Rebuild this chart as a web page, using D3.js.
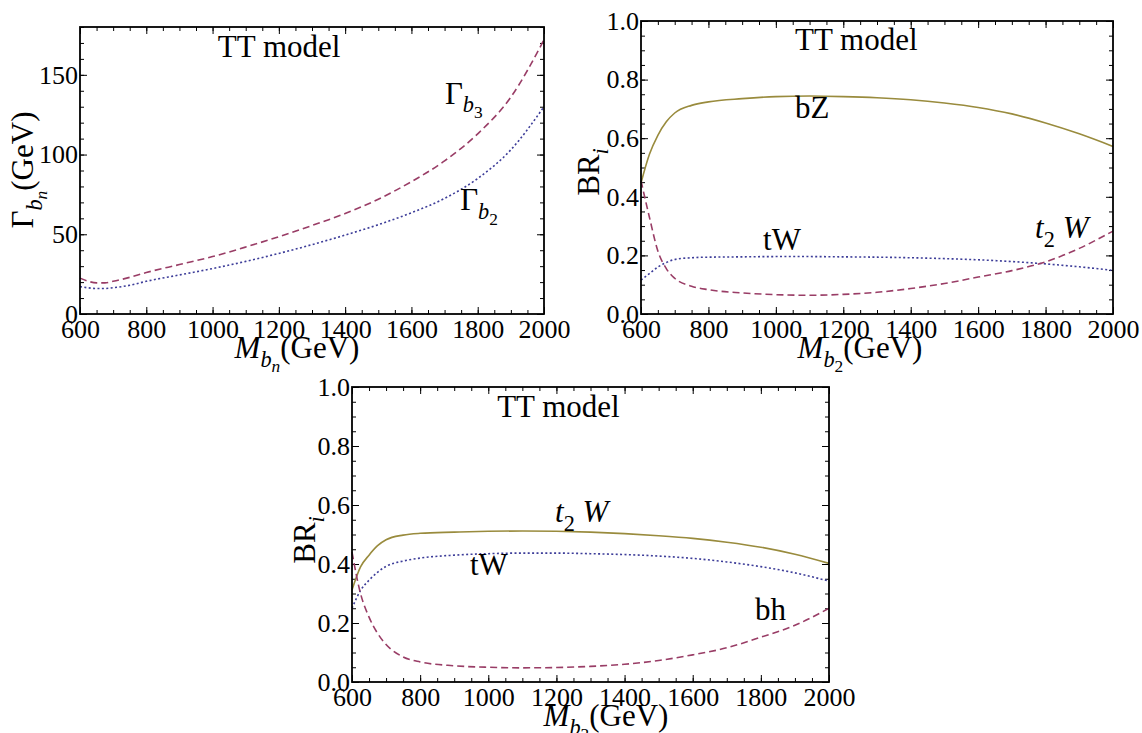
<!DOCTYPE html>
<html>
<head>
<meta charset="utf-8">
<script src="https://cdn.jsdelivr.net/npm/d3@7"></script>
<style>
  body { margin: 0; background: #fff; }
  text { font-family: "Liberation Serif", "Times New Roman", serif; fill: #000; }
</style>
</head>
<body>
<svg id="chart" width="1142" height="733"></svg>
<script>
var mass = [600, 625, 650, 675, 700, 750, 800, 900, 1000, 1100, 1200, 1300, 1400, 1500, 1600, 1700, 1800, 1900, 2000]

// panel 1 : total widths (GeV)
var gammaB3 = [22.5, 20.5, 19.5, 19.5, 20.5, 23, 26, 31, 36, 42, 48.5, 55.5, 63, 72, 83, 96, 113, 136, 172]
var gammaB2 = [17.2, 16.4, 16, 16, 16.5, 18, 20.5, 24.5, 28.5, 33, 38, 43.5, 49.5, 56, 63.5, 72.5, 85, 103, 130]

// panel 2 : b2 branching ratios
var b2_bZ  = [0.447, 0.545, 0.61, 0.656, 0.686, 0.712, 0.724, 0.735, 0.742, 0.744, 0.742, 0.738, 0.731, 0.72, 0.705, 0.683, 0.652, 0.615, 0.572]
var b2_tW  = [0.116, 0.138, 0.16, 0.176, 0.186, 0.192, 0.194, 0.195, 0.196, 0.196, 0.195, 0.194, 0.192, 0.189, 0.185, 0.179, 0.171, 0.161, 0.149]
var b2_t2W = [0.455, 0.33, 0.215, 0.155, 0.122, 0.095, 0.083, 0.072, 0.066, 0.064, 0.067, 0.074, 0.087, 0.104, 0.126, 0.148, 0.178, 0.224, 0.283]

// panel 3 : b3 branching ratios
var b3_t2W = [0.312, 0.39, 0.43, 0.462, 0.482, 0.498, 0.504, 0.508, 0.511, 0.512, 0.511, 0.508, 0.503, 0.496, 0.487, 0.474, 0.457, 0.433, 0.402]
var b3_tW  = [0.25, 0.31, 0.345, 0.372, 0.392, 0.41, 0.42, 0.43, 0.435, 0.437, 0.437, 0.435, 0.432, 0.427, 0.419, 0.407, 0.391, 0.37, 0.342]
var b3_bh  = [0.44, 0.30, 0.22, 0.165, 0.127, 0.085, 0.068, 0.055, 0.05, 0.048, 0.049, 0.053, 0.06, 0.073, 0.092, 0.116, 0.152, 0.192, 0.25]

// tick labels
var massTicks  = [600, 800, 1000, 1200, 1400, 1600, 1800, 2000]
var gammaTicks = [0, 50, 100, 150]
var brTicks    = [0, 0.2, 0.4, 0.6, 0.8, 1.0]

var blue = "#3d3d99", magenta = "#993d66", olive = "#998b3d"
var styles = {
  dotted: { color: blue, dash: "2,2.4" },
  dashed: { color: magenta, dash: "7,4" },
  solid:  { color: olive, dash: null }
}

const svg = d3.select("#chart")

// write text with nested subscripts: parts = [text, italic, level]
function rich(sel, parts, size) {
  var shifts = [0, 0.28, 0.46], scale = [1, 0.72, 0.56]
  var prev = 0
  parts.forEach(function(p) {
    sel.append("tspan")
      .text(p[0])
      .attr("font-size", size * scale[p[2]])
      .attr("font-style", p[1] ? "italic" : "normal")
      .attr("dy", (shifts[p[2]] - shifts[prev]) * size)
    prev = p[2]
  })
  return sel
}

function drawPanel(cfg) {
  var x = d3.scaleLinear().domain([600, 2000]).range([cfg.left, cfg.right])
  var y = d3.scaleLinear().domain(cfg.yDomain).range([cfg.bottom, cfg.top])
  var g = svg.append("g")
  var xMinor = d3.range(600, 2001, 50)
  var yMinor = d3.range(cfg.yDomain[0], cfg.yDomain[1] + 1e-9, cfg.yMinorStep)

  // major ticks + labels
  g.append("g").attr("transform", "translate(0," + cfg.bottom + ")")
    .call(d3.axisBottom(x).tickValues(massTicks).tickSize(-7).tickPadding(6).tickFormat(d3.format("d")))
  g.append("g").attr("transform", "translate(" + cfg.left + ",0)")
    .call(d3.axisLeft(y).tickValues(cfg.yTicks).tickSize(-7).tickPadding(2).tickFormat(cfg.yFormat))
  g.append("g").attr("transform", "translate(0," + cfg.top + ")")
    .call(d3.axisTop(x).tickValues(massTicks).tickSize(-7).tickFormat(""))
  g.append("g").attr("transform", "translate(" + cfg.right + ",0)")
    .call(d3.axisRight(y).tickValues(cfg.yTicks).tickSize(-7).tickFormat(""))
  // minor ticks
  g.append("g").attr("transform", "translate(0," + cfg.bottom + ")")
    .call(d3.axisBottom(x).tickValues(xMinor).tickSize(-4).tickFormat(""))
  g.append("g").attr("transform", "translate(0," + cfg.top + ")")
    .call(d3.axisTop(x).tickValues(xMinor).tickSize(-4).tickFormat(""))
  g.append("g").attr("transform", "translate(" + cfg.left + ",0)")
    .call(d3.axisLeft(y).tickValues(yMinor).tickSize(-4).tickFormat(""))
  g.append("g").attr("transform", "translate(" + cfg.right + ",0)")
    .call(d3.axisRight(y).tickValues(yMinor).tickSize(-4).tickFormat(""))

  g.selectAll(".domain").remove()
  g.selectAll(".tick line").attr("stroke", "#000").attr("stroke-width", 1)
  g.selectAll(".tick text")
    .attr("font-size", 26)
    .style("font-family", "'Liberation Serif', serif")
    .attr("fill", "#000")

  // curves
  var line = d3.line()
    .x(function(d) { return x(d[0]) })
    .y(function(d) { return y(d[1]) })
    .curve(d3.curveMonotoneX)
  cfg.series.forEach(function(s) {
    var st = styles[s.style]
    g.append("path")
      .datum(mass.map(function(m, i) { return [m, s.values[i]] }))
      .attr("d", line)
      .attr("fill", "none")
      .attr("stroke", st.color)
      .attr("stroke-width", 1.6)
      .attr("stroke-dasharray", st.dash)
  })

  // frame
  g.append("rect")
    .attr("x", cfg.left).attr("y", cfg.top)
    .attr("width", cfg.right - cfg.left).attr("height", cfg.bottom - cfg.top)
    .attr("fill", "none").attr("stroke", "#000").attr("stroke-width", 1.8)

  // title + curve labels
  g.append("text").attr("x", x(cfg.title[0])).attr("y", y(cfg.title[1]))
    .attr("font-size", 31).text("TT model")
  cfg.labels.forEach(function(l) {
    rich(g.append("text").attr("x", x(l.at[0])).attr("y", y(l.at[1])), l.parts, 31)
  })

  // axis titles
  rich(g.append("text").attr("x", cfg.xTitle[0]).attr("y", cfg.xTitle[1]).attr("text-anchor", "middle"), cfg.xParts, 31)
  rich(g.append("text").attr("text-anchor", "middle")
    .attr("transform", "translate(" + cfg.yTitle[0] + "," + cfg.yTitle[1] + ") rotate(-90)"), cfg.yParts, 31)
}

drawPanel({
  left: 80, right: 544, top: 27, bottom: 314,
  yDomain: [0, 180], yTicks: gammaTicks, yMinorStep: 10, yFormat: d3.format("d"),
  series: [{ values: gammaB3, style: "dashed" }, { values: gammaB2, style: "dotted" }],
  title: [1016, 161],
  labels: [
    { at: [1701, 132], parts: [["Γ", false, 0], ["b", true, 1], ["3", false, 2]] },
    { at: [1747, 65], parts: [["Γ", false, 0], ["b", true, 1], ["2", false, 2]] }
  ],
  xTitle: [297, 358], xParts: [["M", true, 0], ["b", true, 1], ["n", true, 2], ["(GeV)", false, 0]],
  yTitle: [33, 170], yParts: [["Γ", false, 0], ["b", true, 1], ["n", true, 2], ["(GeV)", false, 0]]
})

drawPanel({
  left: 641, right: 1113, top: 21, bottom: 314,
  yDomain: [0, 1], yTicks: brTicks, yMinorStep: 0.05, yFormat: d3.format(".1f"),
  series: [{ values: b2_bZ, style: "solid" }, { values: b2_tW, style: "dotted" }, { values: b2_t2W, style: "dashed" }],
  title: [1057, 0.901],
  labels: [
    { at: [1057, 0.669], parts: [["bZ", false, 0]] },
    { at: [962, 0.218], parts: [["tW", false, 0]] },
    { at: [1769, 0.259], parts: [["t", true, 0], ["2", false, 1], [" W", true, 0]] }
  ],
  xTitle: [860, 358], xParts: [["M", true, 0], ["b", true, 1], ["2", false, 2], ["(GeV)", false, 0]],
  yTitle: [599, 172], yParts: [["BR", false, 0], ["i", true, 1]]
})

drawPanel({
  left: 352, right: 829, top: 387, bottom: 682,
  yDomain: [0, 1], yTicks: brTicks, yMinorStep: 0.05, yFormat: d3.format(".1f"),
  series: [{ values: b3_t2W, style: "solid" }, { values: b3_tW, style: "dotted" }, { values: b3_bh, style: "dashed" }],
  title: [1026, 0.898],
  labels: [
    { at: [1196, 0.542], parts: [["t", true, 0], ["2", false, 1], [" W", true, 0]] },
    { at: [946, 0.363], parts: [["tW", false, 0]] },
    { at: [1783, 0.21], parts: [["bh", false, 0]] }
  ],
  xTitle: [606, 726], xParts: [["M", true, 0], ["b", true, 1], ["3", false, 2], ["(GeV)", false, 0]],
  yTitle: [315, 540], yParts: [["BR", false, 0], ["i", true, 1]]
})
</script>
</body>
</html>
